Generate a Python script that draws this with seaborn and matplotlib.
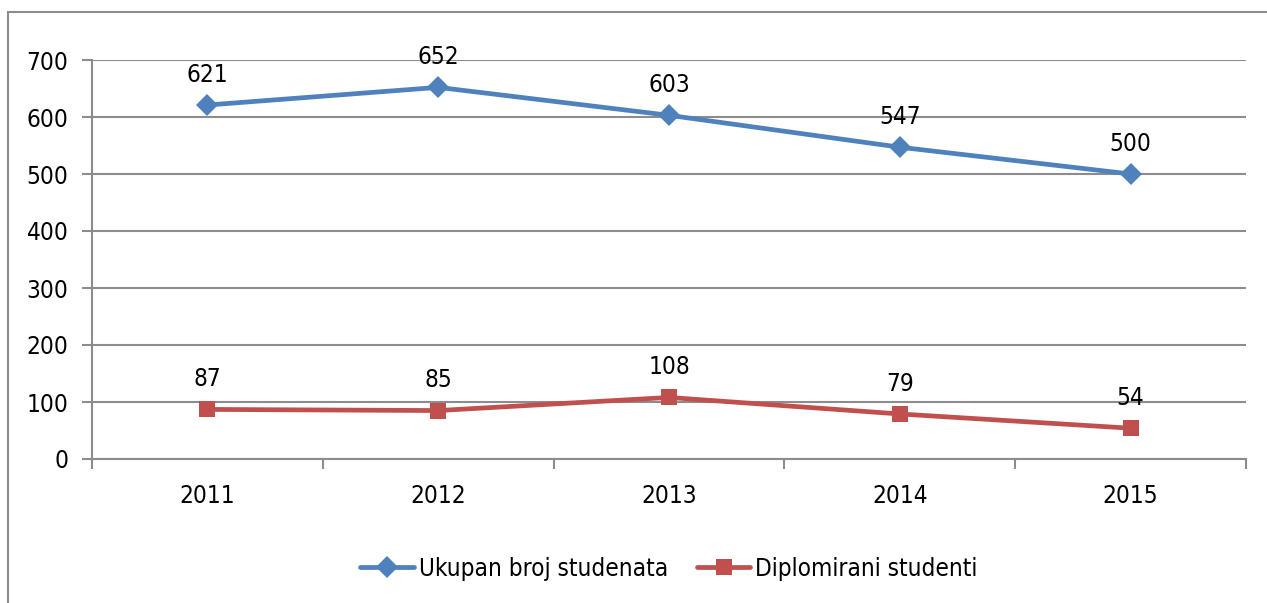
import matplotlib
matplotlib.use("Agg")
import matplotlib.pyplot as plt
import seaborn as sns
import pandas as pd
from matplotlib.patches import Rectangle

years = ["2011", "2012", "2013", "2014", "2015"]
ukupan = [621, 652, 603, 547, 500]
diplomirani = [87, 85, 108, 79, 54]
series_names = ["Ukupan broj studenata", "Diplomirani studenti"]
yticks = [0, 100, 200, 300, 400, 500, 600, 700]

sns.set_theme(style="white")
plt.rcParams["font.family"] = ["DejaVu Sans"]
plt.rcParams["font.stretch"] = "condensed"

FS = 17.5

df = pd.DataFrame({
    "pos": list(range(len(years))) * 2,
    "value": ukupan + diplomirani,
    "series": [series_names[0]] * len(years) + [series_names[1]] * len(years),
})

fig = plt.figure(figsize=(12.67, 6.03), dpi=100)
fig.patches.append(Rectangle((8 / 1267, -0.2), 1.5, 1.2 - 12 / 603,
                             transform=fig.transFigure, fill=False,
                             edgecolor="#8c8c8c", linewidth=1.5))
ax = fig.add_axes([92 / 1267, 1 - 459 / 603, 1154 / 1267, 399 / 603])

colors = {series_names[0]: "#4F81BD", series_names[1]: "#C0504D"}
sns.lineplot(data=df, x="pos", y="value", hue="series", style="series",
             markers={series_names[0]: "D", series_names[1]: "s"},
             dashes=False, palette=colors, linewidth=3.4, markersize=11,
             markeredgewidth=0, ax=ax, legend=True)

for vals in (ukupan, diplomirani):
    for i, v in enumerate(vals):
        ax.annotate(str(v), (i, v), xytext=(0, 13), textcoords="offset points",
                    ha="center", va="bottom", fontsize=FS, color="black")

ax.set_xlim(-0.5, len(years) - 0.5)
ax.set_ylim(0, 700)
ax.set_yticks(yticks)
ax.set_yticklabels([str(t) for t in yticks], fontsize=FS, color="black")
ax.set_xticks(range(len(years)))
ax.set_xticklabels(years, fontsize=FS, color="black")
ax.tick_params(axis="x", length=0, pad=18)
ax.tick_params(axis="y", length=7, width=1.5, color="#8c8c8c", left=True, pad=10)
ax.set_xticks([i - 0.5 for i in range(len(years) + 1)], minor=True)
ax.tick_params(axis="x", which="minor", length=7, width=1.5, color="#8c8c8c",
               bottom=True, direction="out")
ax.grid(axis="y", color="#8c8c8c", linewidth=1.5)
ax.set_axisbelow(True)
for s in ["top", "right"]:
    ax.spines[s].set_visible(False)
for s in ["left", "bottom"]:
    ax.spines[s].set_color("#8c8c8c")
    ax.spines[s].set_linewidth(1.5)
ax.set_xlabel("")
ax.set_ylabel("")

handles, labels = ax.get_legend_handles_labels()
leg = ax.legend(handles, labels, loc="center", bbox_to_anchor=(0.5, -0.275),
                ncol=2, frameon=False, fontsize=FS, handlelength=2.2,
                columnspacing=1.2, handletextpad=0.2)
for t in leg.get_texts():
    t.set_color("black")

fig.savefig("out.png", dpi=100)
